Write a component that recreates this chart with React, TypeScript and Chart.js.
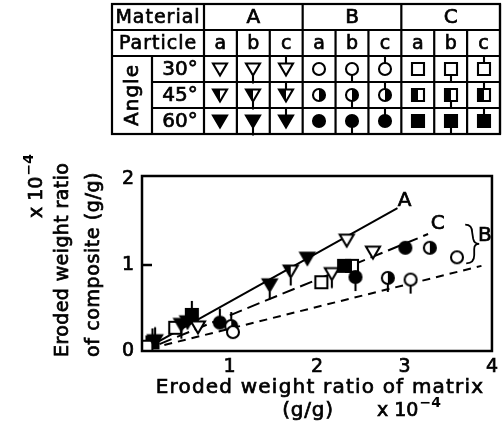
import React, { useEffect, useRef } from "react";
import { Chart, registerables } from "chart.js";

Chart.register(...registerables);

const W = 503;
const H = 435;
const FONT = '"DejaVu Sans", sans-serif';

// Legend table headers
const materials = ["A", "B", "C"];
const particles = ["a", "b", "c"];
const angles = ["30°", "45°", "60°"];

// Eroded weight ratio of matrix (x) vs of composite (y), both in units of 10⁻⁴ g/g
const A_a_30 = [[0.64, 0.28], [2.34, 1.29], [2.64, 1.15]];
const A_a_60 = [[0.52, 0.34], [1.89, 1.08]];
const A_b_30 = [[2.17, 0.90]];
const A_b_45 = [[1.70, 0.93]];
const A_b_60 = [[0.45, 0.31], [1.46, 0.77]];
const A_c_60 = [[0.15, 0.12]];
const B_a_30 = [[1.04, 0.22], [3.60, 1.09]];
const B_a_45 = [[3.29, 1.20]];
const B_a_60 = [[3.01, 1.20]];
const B_b_30 = [[3.07, 0.83]];
const B_b_45 = [[2.81, 0.85]];
const B_b_60 = [[2.44, 0.86]];
const B_c_45 = [[1.02, 0.29]];
const B_c_60 = [[0.89, 0.33]];
const C_a_30 = [[0.05, 0.05], [0.38, 0.27], [2.05, 0.80]];
const C_a_45 = [[2.40, 0.99]];
const C_a_60 = [[2.31, 0.99]];
const C_c_60 = [[0.12, 0.10], [0.57, 0.42]];

// Fitted trend lines (end points)
const lineA = [[0.12, 0.07], [2.92, 1.66]];
const lineC = [[0.2, 0.08], [3.27, 1.36]];
const lineB = [[0.1, 0.03], [3.88, 0.99]];

const xTicks = [1, 2, 3, 4];
const yTicks = [0, 1, 2];

const series = [
  { mat: "A", part: "a", ang: "30°", pts: A_a_30 },
  { mat: "A", part: "a", ang: "60°", pts: A_a_60 },
  { mat: "A", part: "b", ang: "30°", pts: A_b_30 },
  { mat: "A", part: "b", ang: "45°", pts: A_b_45 },
  { mat: "A", part: "b", ang: "60°", pts: A_b_60 },
  { mat: "A", part: "c", ang: "60°", pts: A_c_60 },
  { mat: "B", part: "a", ang: "30°", pts: B_a_30 },
  { mat: "B", part: "a", ang: "45°", pts: B_a_45 },
  { mat: "B", part: "a", ang: "60°", pts: B_a_60 },
  { mat: "B", part: "b", ang: "30°", pts: B_b_30 },
  { mat: "B", part: "b", ang: "45°", pts: B_b_45 },
  { mat: "B", part: "b", ang: "60°", pts: B_b_60 },
  { mat: "B", part: "c", ang: "45°", pts: B_c_45 },
  { mat: "B", part: "c", ang: "60°", pts: B_c_60 },
  { mat: "C", part: "a", ang: "30°", pts: C_a_30 },
  { mat: "C", part: "a", ang: "45°", pts: C_a_45 },
  { mat: "C", part: "a", ang: "60°", pts: C_a_60 },
  { mat: "C", part: "c", ang: "60°", pts: C_c_60 },
];

const markerCache: Record<string, HTMLCanvasElement> = {};

// Symbol: shape by material, fill by angle, stem by particle
function marker(mat: string, part: string, ang: string): HTMLCanvasElement {
  const key = mat + part + ang;
  if (markerCache[key]) return markerCache[key];
  const S = 36;
  const c = document.createElement("canvas");
  c.width = S;
  c.height = S;
  const g = c.getContext("2d")!;
  const cx = S / 2;
  const cy = S / 2;
  const path = new Path2D();
  const half = new Path2D();
  let top = 0;
  let bottom = 0;
  if (mat === "A") {
    path.moveTo(cx - 7, cy - 5.5);
    path.lineTo(cx + 7, cy - 5.5);
    path.lineTo(cx, cy + 6.5);
    path.closePath();
    half.moveTo(cx - 7, cy - 5.5);
    half.lineTo(cx, cy - 5.5);
    half.lineTo(cx, cy + 6.5);
    half.closePath();
    top = cy - 5.5;
    bottom = cy + 6.5;
  } else if (mat === "B") {
    path.arc(cx, cy, 6, 0, Math.PI * 2);
    half.arc(cx, cy, 6, -Math.PI / 2, Math.PI / 2);
    half.closePath();
    top = cy - 6;
    bottom = cy + 6;
  } else {
    path.rect(cx - 6, cy - 6, 12, 12);
    half.rect(cx - 6, cy - 6, 6, 12);
    top = cy - 6;
    bottom = cy + 6;
  }
  g.fillStyle = "#fff";
  g.fill(path);
  g.fillStyle = "#000";
  if (ang === "60°") g.fill(path);
  if (ang === "45°") g.fill(half);
  g.strokeStyle = "#000";
  g.lineWidth = 2.1;
  g.stroke(path);
  g.beginPath();
  if (part === "b") {
    g.moveTo(cx, bottom);
    g.lineTo(cx, bottom + 8);
  } else if (part === "c") {
    g.moveTo(cx, top - 8);
    g.lineTo(cx, top);
  }
  g.stroke();
  markerCache[key] = c;
  return c;
}

function toXY(arr: number[][]) {
  return arr.map(([x, y]) => ({ x, y }));
}

// text with a thin outline so the strokes read as heavy as the printed lettering
function boldText(ctx: CanvasRenderingContext2D, s: string, x: number, y: number) {
  ctx.lineWidth = 0.7;
  ctx.fillText(s, x, y);
  ctx.strokeText(s, x, y);
}

function sciText(
  ctx: CanvasRenderingContext2D,
  x: number,
  y: number,
  base: string,
  exp: string,
  size: number
) {
  ctx.font = `${size}px ${FONT}`;
  ctx.textAlign = "left";
  ctx.textBaseline = "alphabetic";
  boldText(ctx, base, x, y);
  const w = ctx.measureText(base).width;
  ctx.font = `bold ${Math.round(size * 0.72)}px ${FONT}`;
  ctx.fillText(exp, x + w + 1, y - size * 0.45);
}

const decor = {
  id: "decor",
  afterDraw(chart: any) {
    const ctx: CanvasRenderingContext2D = chart.ctx;
    const { left, right, top, bottom } = chart.chartArea;
    const xs = chart.scales.x;
    const ys = chart.scales.y;
    ctx.save();
    ctx.fillStyle = "#000";
    ctx.strokeStyle = "#000";

    // plot frame
    ctx.lineWidth = 2.5;
    ctx.strokeRect(left, top, right - left, bottom - top);
    // inward tick on the y axis
    ctx.beginPath();
    const y1 = ys.getPixelForValue(1);
    ctx.moveTo(left, y1);
    ctx.lineTo(left + 10, y1);
    ctx.stroke();

    // line labels
    ctx.font = `20px ${FONT}`;
    ctx.textAlign = "center";
    ctx.textBaseline = "middle";
    boldText(ctx, "A", xs.getPixelForValue(3.0), ys.getPixelForValue(1.75));
    boldText(ctx, "C", xs.getPixelForValue(3.38), ys.getPixelForValue(1.48));
    boldText(ctx, "B", xs.getPixelForValue(3.92), ys.getPixelForValue(1.34));
    // brace grouping the B points
    const bx = xs.getPixelForValue(3.74);
    const bt = ys.getPixelForValue(1.47);
    const bb = ys.getPixelForValue(1.02);
    const bm = (bt + bb) / 2;
    ctx.lineWidth = 1.8;
    ctx.beginPath();
    ctx.moveTo(bx - 4, bt);
    ctx.quadraticCurveTo(bx + 3, bt, bx + 3, bt + 8);
    ctx.lineTo(bx + 4, bm - 5);
    ctx.quadraticCurveTo(bx + 5, bm, bx + 10, bm);
    ctx.quadraticCurveTo(bx + 5, bm, bx + 5, bm + 5);
    ctx.lineTo(bx + 5, bb - 8);
    ctx.quadraticCurveTo(bx + 5, bb, bx - 3, bb);
    ctx.stroke();

    // axis titles
    (ctx as any).letterSpacing = "1.2px";
    ctx.font = `20px ${FONT}`;
    ctx.textAlign = "center";
    ctx.textBaseline = "alphabetic";
    boldText(ctx, "Eroded weight ratio of matrix", 320, 393);
    (ctx as any).letterSpacing = "0.8px";
    boldText(ctx, "(g/g)", 308, 416);
    (ctx as any).letterSpacing = "0px";
    sciText(ctx, 377, 416, "x 10", "−4", 19);

    ctx.save();
    ctx.translate(68, 357);
    ctx.rotate(-Math.PI / 2);
    (ctx as any).letterSpacing = "0.4px";
    ctx.font = `19px ${FONT}`;
    ctx.textAlign = "left";
    boldText(ctx, "Eroded weight ratio", 0, 0);
    ctx.restore();
    ctx.save();
    ctx.translate(99, 357);
    ctx.rotate(-Math.PI / 2);
    (ctx as any).letterSpacing = "0.6px";
    ctx.font = `19px ${FONT}`;
    ctx.textAlign = "left";
    boldText(ctx, "of composite (g/g)", 0, 0);
    ctx.restore();
    ctx.save();
    ctx.translate(42, 218);
    ctx.rotate(-Math.PI / 2);
    (ctx as any).letterSpacing = "0px";
    sciText(ctx, 0, 0, "x 10", "−4", 19);
    ctx.restore();

    // legend table
    const tL = 112;
    const tSplit = 152;
    const tData = 204;
    const tR = 500;
    const rows = [4, 30, 56, 82, 108, 134];
    const cw = (tR - tData) / 9;
    ctx.lineWidth = 2.2;
    ctx.strokeRect(tL, rows[0], tR - tL, rows[5] - rows[0]);
    ctx.beginPath();
    ctx.moveTo(tL, rows[1]);
    ctx.lineTo(tR, rows[1]);
    ctx.moveTo(tL, rows[2]);
    ctx.lineTo(tR, rows[2]);
    ctx.moveTo(tSplit, rows[3]);
    ctx.lineTo(tR, rows[3]);
    ctx.moveTo(tSplit, rows[4]);
    ctx.lineTo(tR, rows[4]);
    ctx.moveTo(tSplit, rows[2]);
    ctx.lineTo(tSplit, rows[5]);
    for (let i = 0; i <= 9; i++) {
      const x = tData + i * cw;
      ctx.moveTo(x, i % 3 === 0 ? rows[0] : rows[1]);
      ctx.lineTo(x, rows[5]);
    }
    ctx.stroke();

    (ctx as any).letterSpacing = "1px";
    ctx.font = `19px ${FONT}`;
    ctx.textAlign = "center";
    ctx.textBaseline = "middle";
    const mid = (r: number) => (rows[r] + rows[r + 1]) / 2 + 1;
    boldText(ctx, "Material", (tL + tData) / 2, mid(0));
    boldText(ctx, "Particle", (tL + tData) / 2, mid(1));
    (ctx as any).letterSpacing = "0px";
    ctx.font = `20px ${FONT}`;
    angles.forEach((a, i) => boldText(ctx, a, (tSplit + tData) / 2 + 2, mid(i + 2)));
    materials.forEach((m, i) =>
      boldText(ctx, m, tData + (i * 3 + 1.5) * cw, mid(0))
    );
    ctx.save();
    ctx.translate((tL + tSplit) / 2 + 1, (rows[2] + rows[5]) / 2);
    ctx.rotate(-Math.PI / 2);
    (ctx as any).letterSpacing = "1px";
    boldText(ctx, "Angle", 0, 0);
    ctx.restore();
    ctx.font = `19px ${FONT}`;
    materials.forEach((m, mi) =>
      particles.forEach((p, pi) => {
        const cx = tData + (mi * 3 + pi + 0.5) * cw;
        boldText(ctx, p, cx, mid(1));
        angles.forEach((a, ai) => {
          const img = marker(m, p, a);
          ctx.drawImage(img, Math.round(cx - img.width / 2), Math.round(mid(ai + 2) - 1 - img.height / 2));
        });
      })
    );
    ctx.restore();
  },
};

export default function App() {
  const ref = useRef<HTMLCanvasElement | null>(null);
  useEffect(() => {
    if (!ref.current) return;
    const lineSet = (pts: number[][], dash: number[]) => ({
      type: "line" as const,
      data: toXY(pts),
      showLine: true,
      borderColor: "#000",
      borderWidth: 2,
      borderDash: dash,
      pointRadius: 0,
      fill: false,
      order: 10,
    });
    const tickFont = { family: FONT, size: 19 };
    const chart = new Chart(ref.current, {
      type: "scatter",
      data: {
        datasets: [
          ...series.map((s) => ({
            label: `${s.mat}-${s.part}-${s.ang}`,
            data: toXY(s.pts),
            pointStyle: marker(s.mat, s.part, s.ang),
            pointRadius: 8,
            order: 0,
          })),
          lineSet(lineA, []),
          lineSet(lineC, [13, 6]),
          lineSet(lineB, [8, 6]),
        ] as any,
      },
      options: {
        responsive: false,
        animation: false,
        events: [],
        layout: { padding: { left: 0, right: 5, top: 176, bottom: 0 } },
        plugins: { legend: { display: false }, tooltip: { enabled: false } },
        scales: {
          x: {
            type: "linear",
            min: 0,
            max: 4,
            grid: { display: false, drawTicks: false },
            border: { display: false },
            afterFit: (s: any) => {
              s.height = 84;
            },
            afterBuildTicks: (s: any) => {
              s.ticks = xTicks.map((v) => ({ value: v }));
            },
            ticks: {
              color: "#000",
              padding: 5,
              font: tickFont,
              textStrokeColor: "#000",
              textStrokeWidth: 0.7,
              callback: (v: any) => String(v),
            },
          },
          y: {
            type: "linear",
            min: 0,
            max: 2.035,
            grid: { display: false, drawTicks: false },
            border: { display: false },
            afterFit: (s: any) => {
              s.width = 142;
            },
            afterBuildTicks: (s: any) => {
              s.ticks = yTicks.map((v) => ({ value: v }));
            },
            ticks: {
              color: "#000",
              padding: 8,
              font: tickFont,
              textStrokeColor: "#000",
              textStrokeWidth: 0.7,
              callback: (v: any) => String(v),
            },
          },
        },
      },
      plugins: [decor],
    });
    return () => chart.destroy();
  }, []);
  return (
    <div style={{ position: "absolute", left: 0, top: 0, width: W, height: H, background: "#fff" }}>
      <canvas ref={ref} width={W} height={H} style={{ width: W, height: H, display: "block" }} />
    </div>
  );
}
